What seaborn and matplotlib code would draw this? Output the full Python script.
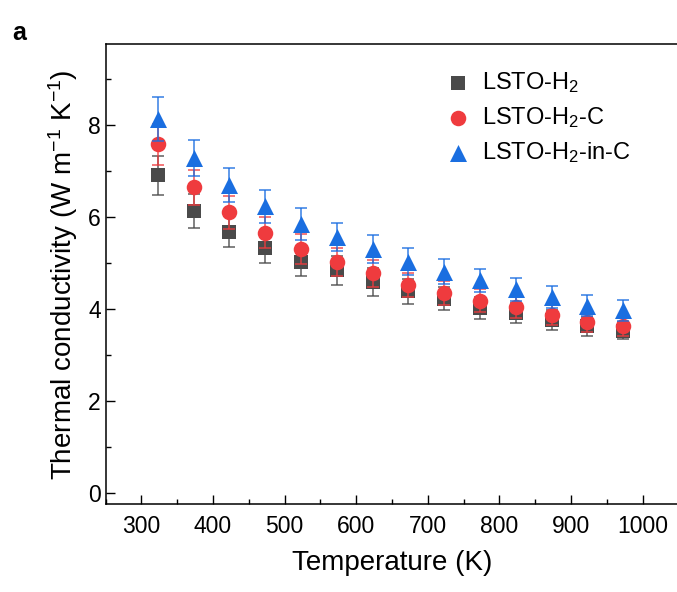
import matplotlib
matplotlib.use('Agg')

import matplotlib.pyplot as plt
import numpy as np
import pandas as pd
import seaborn as sns
from matplotlib.ticker import MultipleLocator

plt.rcParams['font.family'] = ['Liberation Sans', 'DejaVu Sans']
plt.rcParams['mathtext.fontset'] = 'custom'
plt.rcParams['mathtext.rm'] = 'Liberation Sans'
plt.rcParams['mathtext.it'] = 'Liberation Sans:italic'
plt.rcParams['axes.unicode_minus'] = True

# data
temperature = [323, 373, 423, 473, 523, 573, 623, 673, 723, 773, 823, 873, 923, 973]
k_h2 = [6.90, 6.13, 5.68, 5.32, 5.03, 4.84, 4.59, 4.38, 4.22, 4.02, 3.91, 3.76, 3.62, 3.53]
err_h2 = [0.42, 0.37, 0.34, 0.32, 0.31, 0.32, 0.30, 0.28, 0.25, 0.23, 0.22, 0.21, 0.20, 0.19]
k_h2_c = [7.58, 6.64, 6.10, 5.66, 5.30, 5.02, 4.77, 4.52, 4.34, 4.18, 4.04, 3.87, 3.71, 3.62]
err_h2_c = [0.45, 0.39, 0.36, 0.34, 0.32, 0.30, 0.29, 0.27, 0.26, 0.25, 0.24, 0.23, 0.22, 0.22]
k_h2_in_c = [8.13, 7.28, 6.70, 6.23, 5.85, 5.56, 5.30, 5.03, 4.81, 4.62, 4.43, 4.26, 4.07, 3.97]
err_h2_in_c = [0.48, 0.39, 0.37, 0.36, 0.35, 0.30, 0.30, 0.29, 0.27, 0.25, 0.25, 0.24, 0.23, 0.23]

series = [
    ('LSTO-H$_2$', k_h2, err_h2, 's', '#4a4a4a', 95),
    ('LSTO-H$_2$-C', k_h2_c, err_h2_c, 'o', '#ef3b3e', 125),
    ('LSTO-H$_2$-in-C', k_h2_in_c, err_h2_in_c, '^', '#1a6ee0', 150),
]

df = pd.concat([
    pd.DataFrame({'T': temperature, 'k': vals, 'err': errs, 'sample': name})
    for name, vals, errs, *_ in series
], ignore_index=True)

fig = plt.figure(figsize=(6.77, 5.92), dpi=100)
ax = fig.add_axes([0.156, 0.148, 0.846, 0.777])

for i, (name, _, _, marker, color, size) in enumerate(series):
    sub = df[df['sample'] == name]
    sns.scatterplot(data=sub, x='T', y='k', marker=marker, color=color, s=size,
                    linewidth=0, label=name, zorder=3 + 2 * i, ax=ax)
    ax.errorbar(sub['T'], sub['k'], yerr=sub['err'], fmt='none', ecolor=color,
                elinewidth=1.3, capsize=4, capthick=1.3, alpha=0.75, zorder=4 + 2 * i)

ax.set_xlim(250, 1050)
ax.set_ylim(-0.25, 9.75)
ax.xaxis.set_major_locator(MultipleLocator(100))
ax.xaxis.set_minor_locator(MultipleLocator(50))
ax.yaxis.set_major_locator(MultipleLocator(2))
ax.yaxis.set_minor_locator(MultipleLocator(1))
ax.set_xticks(np.arange(300, 1001, 100))
ax.tick_params(which='both', direction='in', width=1.0, labelsize=16.5)
ax.tick_params(which='major', length=6.5)
ax.tick_params(which='minor', length=3.5)
ax.tick_params(axis='x', pad=8)
for sp in ax.spines.values():
    sp.set_linewidth(1.1)
ax.spines['right'].set_visible(False)

ax.set_xlabel('Temperature (K)', fontsize=20, labelpad=8)
ax.set_ylabel('Thermal conductivity (W m$^{-1}$ K$^{-1}$)', fontsize=20, labelpad=6)

ax.legend(loc='upper left', bbox_to_anchor=(0.548, 0.99), frameon=False,
          fontsize=17, handletextpad=0.25, labelspacing=0.42, handlelength=1.5)

fig.text(0.018, 0.965, 'a', fontsize=18, fontweight='bold', va='top')

fig.savefig('out.png', dpi=100)
